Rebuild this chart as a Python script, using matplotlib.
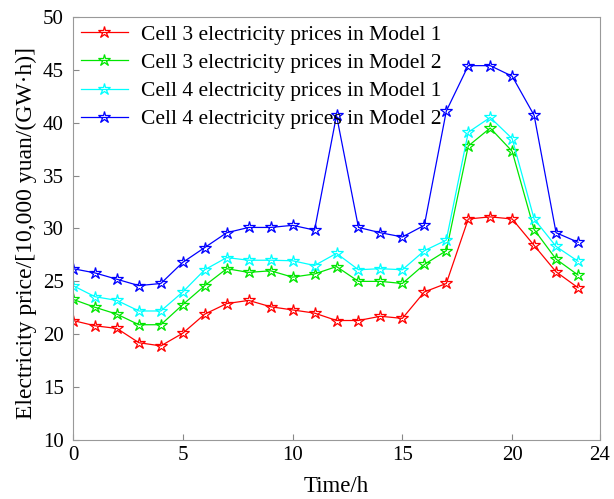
import numpy as np
import matplotlib.pyplot as plt

plt.rcParams['font.family'] = ['Liberation Serif', 'DejaVu Serif']

hours = list(range(24))

cell3_model1 = [21.3, 20.8, 20.55, 19.2, 18.9, 20.1, 21.9, 22.9, 23.2, 22.6, 22.3, 22.0,
                21.3, 21.3, 21.7, 21.5, 24.0, 24.8, 30.9, 31.1, 30.9, 28.4, 25.9, 24.4]
cell3_model2 = [23.3, 22.55, 21.9, 20.9, 20.9, 22.8, 24.6, 26.2, 25.85, 26.0, 25.4, 25.7,
                26.4, 25.0, 25.0, 24.8, 26.6, 27.9, 37.8, 39.5, 37.3, 29.9, 27.1, 25.6]
cell4_model1 = [24.6, 23.55, 23.2, 22.2, 22.2, 24.0, 26.1, 27.25, 27.0, 27.0, 26.95, 26.5,
                27.65, 26.1, 26.2, 26.1, 27.9, 28.9, 39.1, 40.5, 38.5, 30.9, 28.3, 26.9]
cell4_model2 = [26.2, 25.8, 25.2, 24.6, 24.8, 26.8, 28.2, 29.6, 30.1, 30.1, 30.3, 29.85,
                40.7, 30.1, 29.6, 29.2, 30.3, 41.1, 45.4, 45.4, 44.4, 40.7, 29.6, 28.7]

labels = ["Cell 3 electricity prices in Model 1",
          "Cell 3 electricity prices in Model 2",
          "Cell 4 electricity prices in Model 1",
          "Cell 4 electricity prices in Model 2"]
colors = ["#ff0000", "#00e600", "#00ffff", "#0000ff"]

fig = plt.figure(figsize=(6.14, 4.99), dpi=100)
ax = fig.add_axes([73 / 614, 59 / 499, 527 / 614, 423 / 499])

for vals, lab, col in zip([cell3_model1, cell3_model2, cell4_model1, cell4_model2], labels, colors):
    ax.plot(hours, vals, color=col, lw=0.9, marker="*", markersize=9,
            markerfacecolor="none", markeredgecolor=col, markeredgewidth=0.9, label=lab)

ax.set_xlim(0, 24)
ax.set_ylim(10, 50)
ax.set_xticks([0, 5, 10, 15, 20, 24])
ax.set_yticks(range(10, 51, 5))
ax.tick_params(direction="in", labelsize=15, length=4.5, color="#888888")
ax.tick_params(axis="y", pad=6.5)
ax.tick_params(axis="x", pad=4)
for s in ax.spines.values():
    s.set_color("#999999")
ax.set_xlabel("Time/h", fontsize=16.5, labelpad=8)
ax.set_ylabel("Electricity price/[10,000 yuan/(GW·h)]", fontsize=17)
ax.yaxis.set_label_coords(-0.068, 0.49)

ax.legend(loc="upper left", frameon=False, fontsize=15.5, handlelength=2.2,
          labelspacing=0.38, borderaxespad=0.1, borderpad=0.25, handletextpad=0.6)

fig.savefig("out.png", dpi=100)
